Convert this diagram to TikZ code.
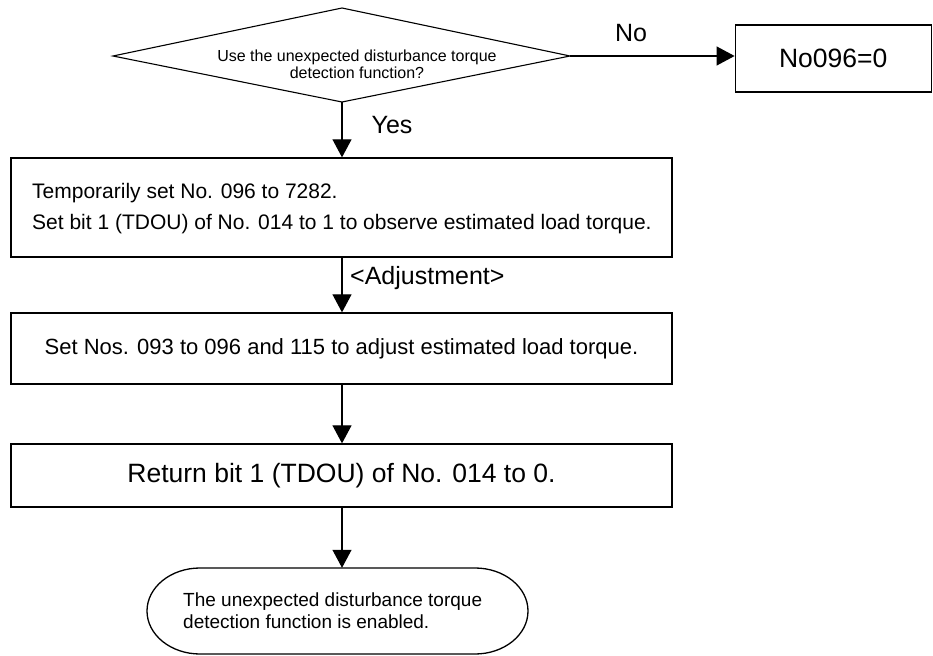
\documentclass[tikz,border=0pt]{standalone}
\usepackage{fontspec}
\setmainfont{Liberation Sans}
\usetikzlibrary{arrows.meta}
\begin{document}
\begin{tikzpicture}[x=1pt,y=-1pt,
  box/.style={draw, line width=1.3pt, inner sep=0pt},
  conn/.style={line width=1.1pt, -{Triangle[length=18pt,width=19pt]}},
  txt/.style={inner sep=0pt},
  fA/.style={font=\fontsize{16}{17}\selectfont},
  fB/.style={font=\fontsize{21}{24}\selectfont},
  fB2/.style={font=\fontsize{22}{25}\selectfont},
  fC/.style={font=\fontsize{25}{28}\selectfont},
  fD/.style={font=\fontsize{19}{22}\selectfont},
  fE/.style={font=\fontsize{26.5}{30}\selectfont}]
\useasboundingbox (0,0) rectangle (933,655);
% decision diamond
\coordinate (dtop) at (342,8);
\coordinate (dbot) at (342,102);
\coordinate (dleft) at (113,56);
\coordinate (dright) at (570,56);
\draw[line width=1.1pt] (dtop) -- (dright) -- (dbot) -- (dleft) -- cycle;
\node[txt, fA, align=center] (dtext) at (357,64) {Use the unexpected disturbance torque\\detection function?};
% No box
\node[box, minimum width=196pt, minimum height=67pt] (nobox) at (833.25,58.5) {};
\node[txt, fE] (notext) at (nobox.center) {No096=0};
% box 1
\node[box, minimum width=661pt, minimum height=99pt] (b1) at (341.5,207.5) {};
\node[txt, fB, anchor=west] (b1a) at (32,193) {Temporarily set No. 096 to 7282.};
\node[txt, fB, anchor=west] (b1b) at (32,224) {Set bit 1 (TDOU) of No. 014 to 1 to observe estimated load torque.};
% box 2
\node[box, minimum width=661pt, minimum height=71pt] (b2) at (341.5,348.5) {};
\node[txt, fB2] (b2t) at (b2.center) {Set Nos. 093 to 096 and 115 to adjust estimated load torque.};
% box 3
\node[box, minimum width=661pt, minimum height=63pt] (b3) at (341.5,475.5) {};
\node[txt, fE] (b3t) at (b3.center) {Return bit 1 (TDOU) of No. 014 to 0.};
% terminal
\node[minimum width=381pt, minimum height=86pt, inner sep=0pt] (term) at (337.5,611) {};
\draw[line width=1.3pt] (200,568) -- (475,568) arc[start angle=90, end angle=-90, x radius=53pt, y radius=43pt]
  -- (200,654) arc[start angle=270, end angle=90, x radius=53pt, y radius=43pt] -- cycle;
\node[txt, fD, align=left, anchor=west] (termt) at (183,611) {The unexpected disturbance torque\\detection function is enabled.};
% connectors
\draw[conn] (dright) -- (dright -| nobox.west);
\node[txt, fC] (nolab) at (631,33) {No};
\draw[conn] (dbot) -- (dbot |- b1.north);
\node[txt, fC] (yeslab) at (392,125) {Yes};
\draw[conn] (b1.south -| dbot) -- (b2.north -| dbot);
\node[txt, fC, anchor=west] (adjlab) at (350,278) {<Adjustment>};
\draw[conn] (b2.south -| dbot) -- (b3.north -| dbot);
\draw[conn] (b3.south -| dbot) -- (term.north -| dbot);
\end{tikzpicture}
\end{document}
